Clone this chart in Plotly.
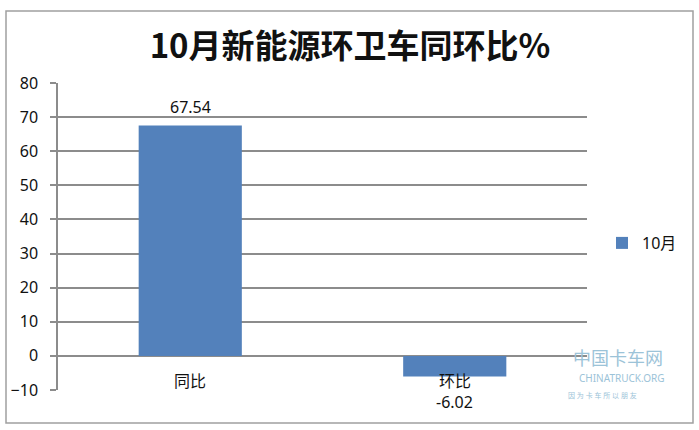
import plotly.graph_objects as go

categories = ["同比", "环比"]
values = [67.54, -6.02]
value_labels = ["67.54", "-6.02"]
series_name = "10月"
title_text = "10月新能源环卫车同环比%"
y_ticks = [-10, 0, 10, 20, 30, 40, 50, 60, 70, 80]

BAR = "#5381BB"
GRID = "#8C8C8C"
FONT = "Noto Sans, Noto Sans CJK SC, sans-serif"

W, H = 699, 430
L, R, T, B = 58, 112, 83, 40
pw, ph = W - L - R, H - T - B


def px(x):
    return (x - L) / pw


def py(y):
    return (H - B - y) / ph


fig = go.Figure()
fig.add_trace(go.Bar(
    x=categories, y=values, name=series_name,
    marker=dict(color=BAR, line=dict(width=0)),
    width=0.39, showlegend=True,
))

annotations = []
for c, v, lab in zip(categories, values, value_labels):
    annotations.append(dict(
        x=c, y=v, xref="x", yref="y", text=lab, showarrow=False,
        yshift=19 if v >= 0 else -26,
        font=dict(size=16, color="#111111", family=FONT),
    ))
    annotations.append(dict(
        x=c, y=0, xref="x", yref="y", text=c, showarrow=False,
        yshift=-25,
        font=dict(size=16, color="#111111", family=FONT),
    ))

# watermark approximation
annotations += [
    dict(x=px(618), y=py(372), xref="paper", yref="paper", text="中国卡车网",
         showarrow=False, xanchor="center",
         font=dict(size=18, color="#9CC3D8", family=FONT)),
    dict(x=px(622), y=py(387), xref="paper", yref="paper", text="CHINATRUCK.ORG",
         showarrow=False, xanchor="center",
         font=dict(size=10, color="#9CC3D8", family=FONT)),
    dict(x=px(602), y=py(402), xref="paper", yref="paper",
         text="因 为 卡 车 所 以 朋 友", showarrow=False, xanchor="center",
         font=dict(size=7, color="#9CC3D8", family=FONT)),
]

shapes = [
    dict(type="rect", xref="paper", yref="paper",
         x0=px(6), x1=px(693), y0=py(423), y1=py(11),
         line=dict(color="#A0A0A0", width=1.5), fillcolor="rgba(0,0,0,0)", layer="below"),
    dict(type="line", xref="paper", yref="y", x0=0, x1=1, y0=0, y1=0,
         line=dict(color=GRID, width=1.5), layer="below"),
]

fig.update_layout(
    width=W, height=H,
    margin=dict(l=L, r=R, t=T, b=B),
    paper_bgcolor="white", plot_bgcolor="white",
    font=dict(family=FONT, color="#111111", size=15),
    title=dict(text="<b>" + title_text + "</b>", x=px(350), xref="paper",
               y=1 - 46 / H, yanchor="middle", xanchor="center",
               font=dict(size=33, color="#111111", family="Noto Sans CJK SC, sans-serif")),
    bargap=0.61,
    showlegend=True,
    legend=dict(x=px(602), y=py(243), xref="paper", yref="paper",
                xanchor="left", yanchor="middle",
                font=dict(size=16, family=FONT, color="#111111"),
                itemwidth=30, bgcolor="rgba(0,0,0,0)"),
    annotations=annotations,
    shapes=shapes,
)
fig.update_xaxes(showticklabels=False, showgrid=False, showline=False, zeroline=False,
                 ticks="", fixedrange=True)
fig.update_yaxes(range=[-10, 80], tickvals=y_ticks, showgrid=True, gridcolor=GRID,
                 gridwidth=1.5, zeroline=False, showline=True, linecolor=GRID,
                 linewidth=1.5, ticks="outside", ticklen=6, tickcolor=GRID, tickwidth=1.5,
                 ticklabelstandoff=9,
                 tickfont=dict(size=16, color="#111111", family=FONT))

fig.write_html("out.html", config={"displayModeBar": False},
               post_script="document.body.style.margin='0';")
